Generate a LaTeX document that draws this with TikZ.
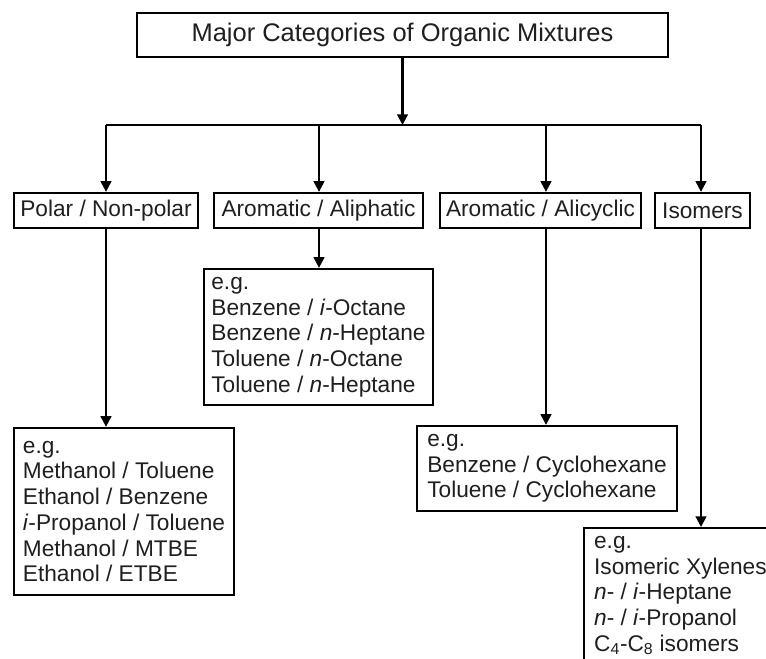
\documentclass[tikz,border=0pt]{standalone}
\usepackage{fontspec}
\setmainfont{Liberation Sans}
\usetikzlibrary{arrows.meta}
\begin{document}
\begin{tikzpicture}[x=0.75pt,y=-0.75pt,
  box/.style={draw=black, line width=1.7pt, inner sep=0pt, text=black!88,
    font=\fontsize{17}{19.3}\selectfont},
  exbox/.style={box, align=left},
  arr/.style={line width=1.6pt, -{Triangle[length=8pt,width=8pt]}},
  ln/.style={line width=1.6pt}]
\useasboundingbox (0,0) rectangle (766,659);
\clip (0,0) rectangle (766,659);
\fill[white] (0,0) rectangle (766,659);
% top
\node[box, minimum width=398.25pt, minimum height=33pt,
  font=\fontsize{19.1}{22}\selectfont] (top) at (402.5,35) {Major Categories of Organic Mixtures};
% level 2
\node[box, minimum width=138pt, minimum height=26.25pt] (polar) at (106,210.5) {Polar / Non-polar};
\node[box, minimum width=156.75pt, minimum height=26.25pt] (aliph) at (318.5,210.5) {Aromatic / Aliphatic};
\node[box, minimum width=150.75pt, minimum height=26.25pt] (alicy) at (540.5,210.5) {Aromatic / Alicyclic};
\node[box, minimum width=71.25pt, minimum height=26.25pt] (isom) at (702.5,210.5) {Isomers};
% examples
\node[exbox, minimum width=171.75pt, minimum height=102pt] (ex1) at (318.5,337)
  {e.g.\\Benzene / \textit{i}-Octane\\Benzene / \textit{n}-Heptane\\Toluene / \textit{n}-Octane\\Toluene / \textit{n}-Heptane};
\node[exbox, minimum width=165pt, minimum height=125.25pt] (ex2) at (124,511.5)
  {e.g.\\Methanol / Toluene\\Ethanol / Benzene\\\textit{i}-Propanol / Toluene\\Methanol / MTBE\\Ethanol / ETBE};
\node[exbox, minimum width=195pt, minimum height=63.75pt] (ex3) at (547,468.5)
  {e.g.\\Benzene / Cyclohexane\\Toluene / Cyclohexane};
\node[exbox, anchor=north west, inner xsep=7.5pt, inner ysep=6pt] (ex4) at (583,527)
  {e.g.\\Isomeric Xylenes\hspace{20pt}\\\textit{n}- / \textit{i}-Heptane\\\textit{n}- / \textit{i}-Propanol\\C\textsubscript{4}-C\textsubscript{8} isomers};
% connectors
\coordinate (jL) at (106,125);
\coordinate (jA) at (319,125);
\coordinate (jC) at (546,125);
\coordinate (jI) at (701,125);
\draw[arr] (top.south) -- (top.south |- jL);
\draw[ln] (jL) -- (jI);
\draw[arr] (jL) -- (jL |- polar.north);
\draw[arr] (jA) -- (jA |- aliph.north);
\draw[arr] (jC) -- (jC |- alicy.north);
\draw[arr] (jI) -- (jI |- isom.north);
\draw[arr] (jL |- polar.south) -- (jL |- ex2.north);
\draw[arr] (jA |- aliph.south) -- (jA |- ex1.north);
\draw[arr] (jC |- alicy.south) -- (jC |- ex3.north);
\draw[arr] (jI |- isom.south) -- (jI |- ex4.north);
\end{tikzpicture}
\end{document}
